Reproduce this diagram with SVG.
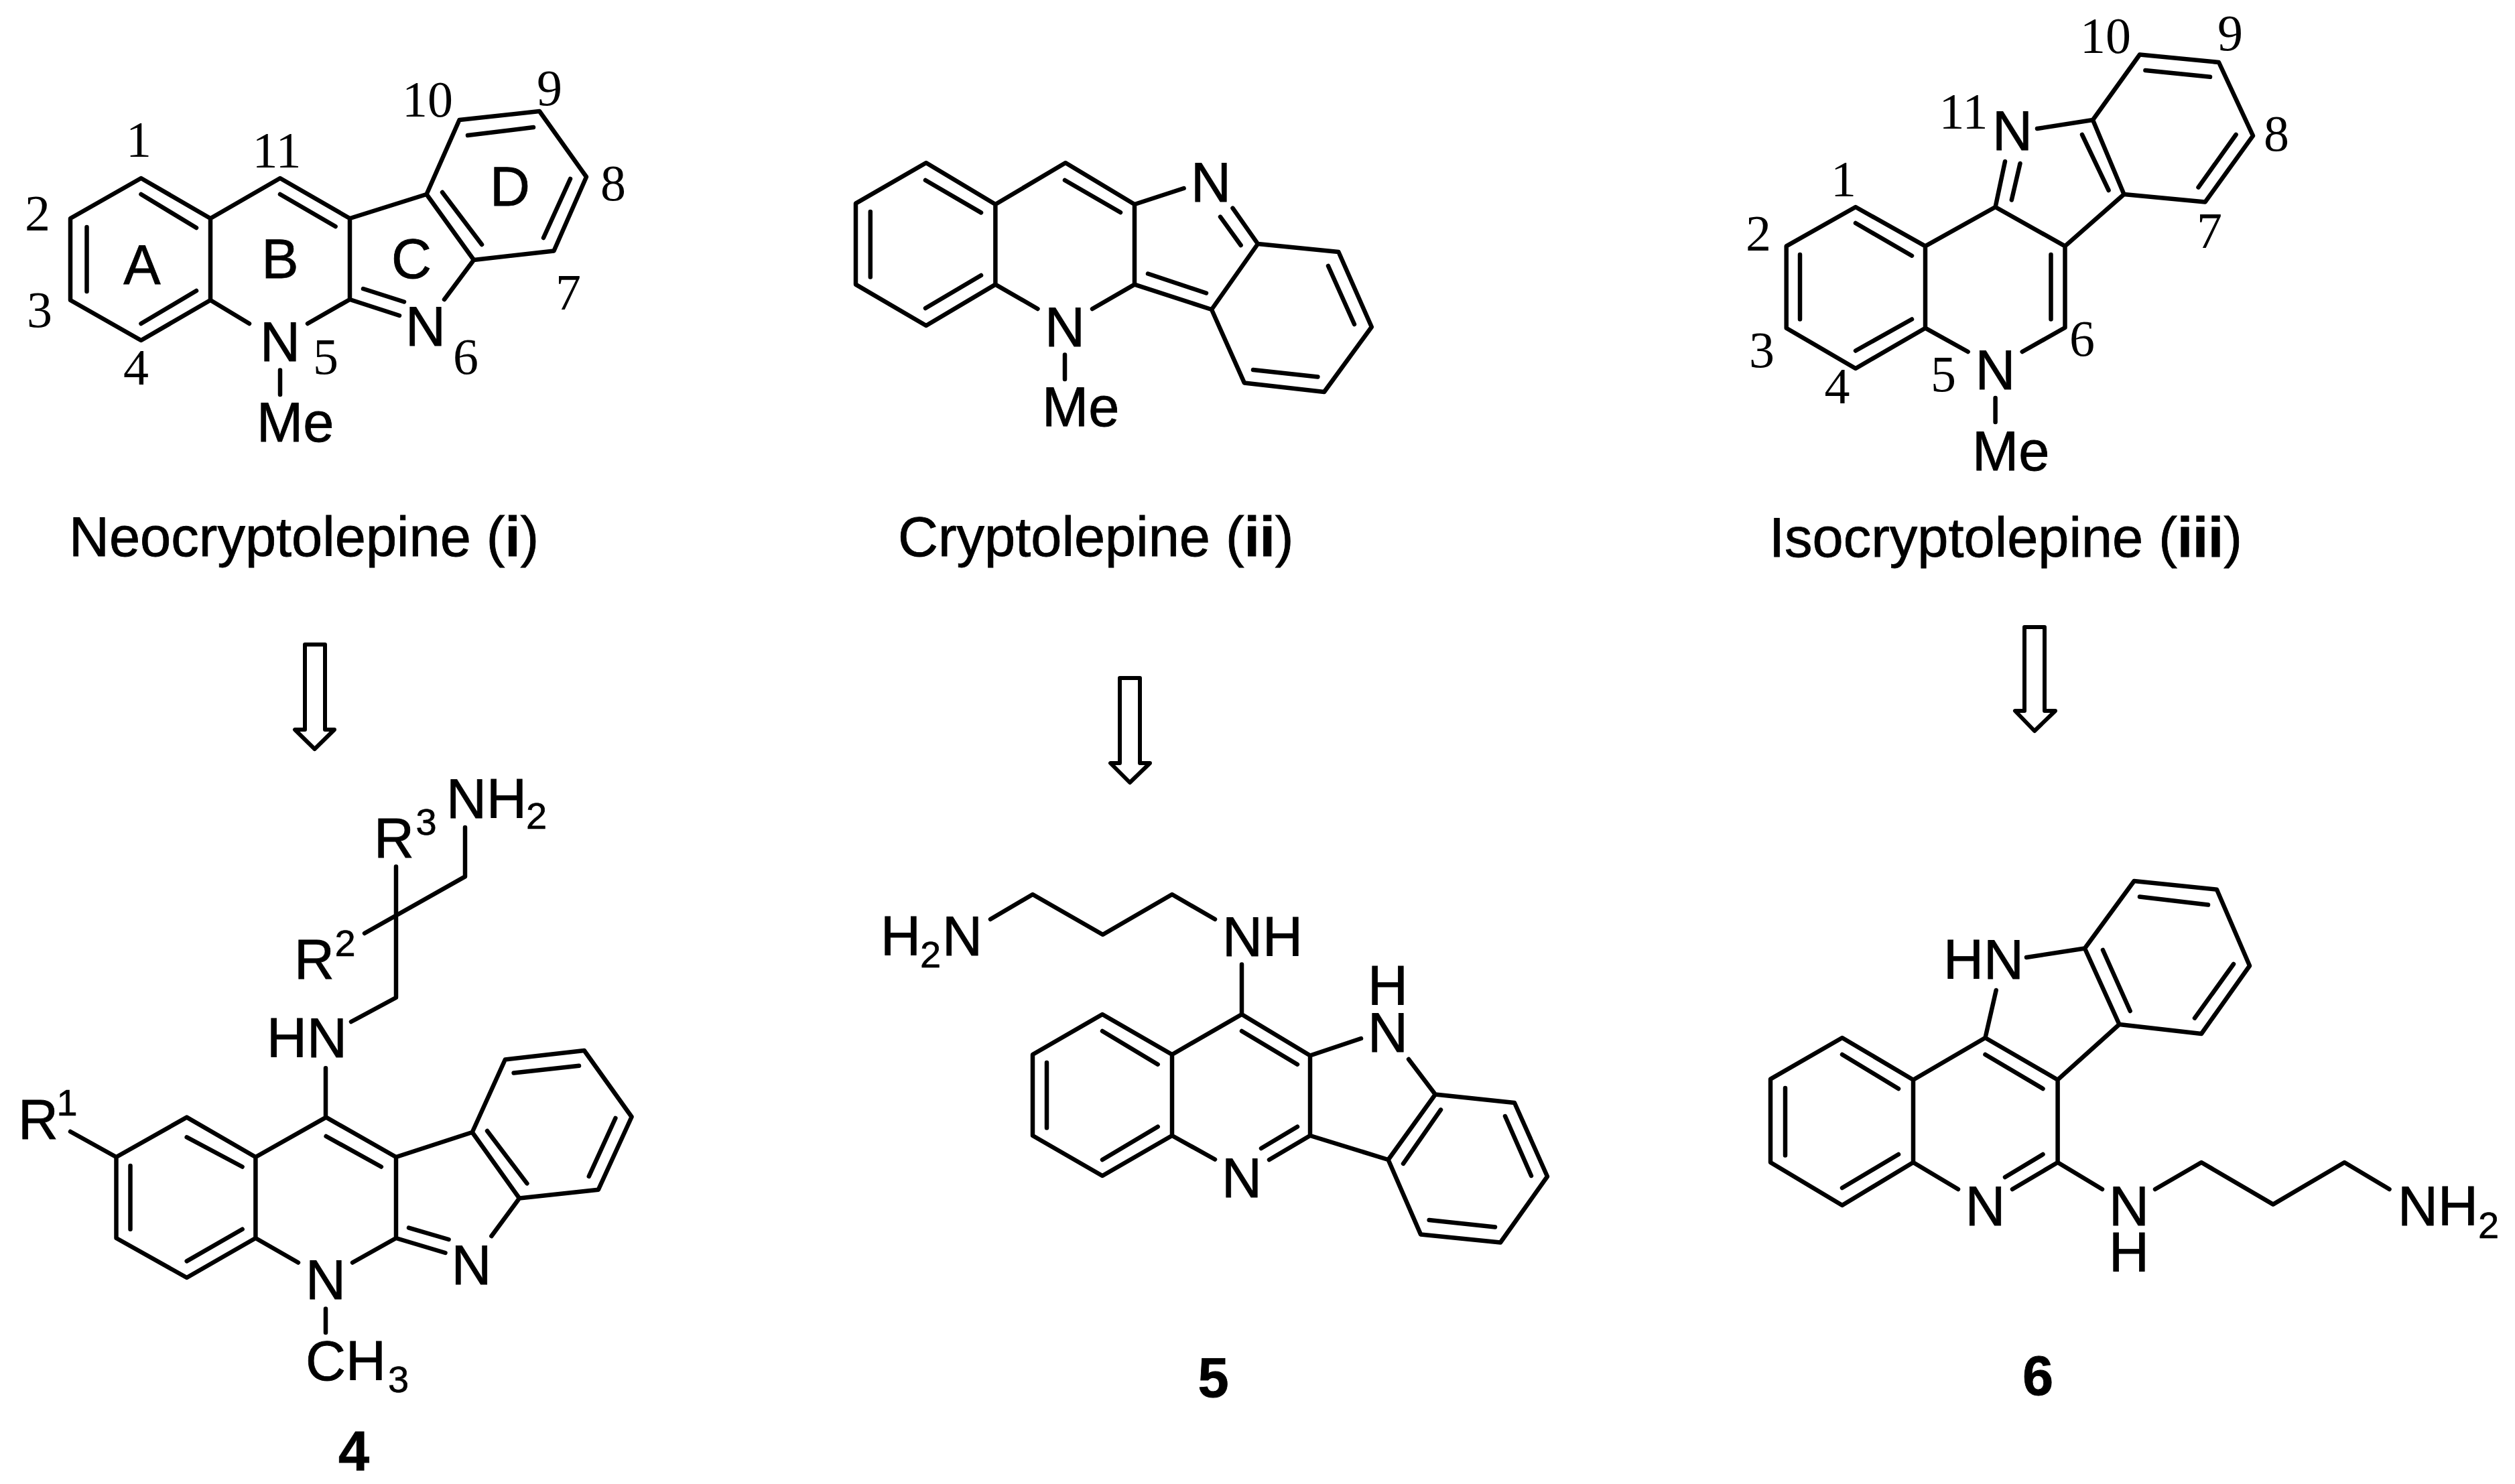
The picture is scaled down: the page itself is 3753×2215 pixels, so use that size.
<svg xmlns="http://www.w3.org/2000/svg" width="3753" height="2215" viewBox="0 0 3753 2215">
<style>
.b{fill:none;stroke:#000;stroke-width:6.500;stroke-linecap:round;stroke-linejoin:round}
.ar{fill:#fff;stroke:#000;stroke-width:6;stroke-linejoin:round}
text{fill:#000}
.a{font-family:"Liberation Sans",Arial,sans-serif;font-size:83px;stroke:#000;stroke-width:.8px}
.s{font-family:"Liberation Sans",Arial,sans-serif;font-size:56px;stroke:#000;stroke-width:.6px}
.n{font-family:"Liberation Serif","Times New Roman",serif;font-size:76px;text-anchor:middle}
.m{text-anchor:middle}
.bd{font-weight:bold}
</style>
<rect width="3753" height="2215" fill="#fff"/>
<g id="connectors">
<path class="ar" d="M455 962H485V1089H499L469.500 1118L440 1089H455Z"/>
<path class="ar" d="M1671 1012H1701V1139H1716L1686 1168L1657 1139H1671Z"/>
<path class="ar" d="M3021 936H3051V1061H3067L3036 1091L3007 1061H3021Z"/>
</g>
<g id="neocryptolepine">
<path class="b" d="M210.500 266L105 326V448L210.500 508L314 448V326ZM314 326L418 266L522 326V447M314 448L372 483M459 483L522 447L596 471M542 431L603 450.500M663 447L707 388L636.500 290L522 326M636.500 290L685.500 179L805 166L875 264L826.500 374.500L707 388M210.500 290L293 340M129.500 339V435M210.500 483L293 434M418 290L500.600 338M698 202L796 190M851 267L811 355M660 287L719 365M418 552.500V589"/>
<text class="a m" x="418" y="539">N</text><text class="a m" x="635" y="516">N</text>
<text class="a" x="383" y="659">Me</text>
<text class="a m" x="212" y="424">A</text><text class="a m" x="418" y="415">B</text><text class="a m" x="614" y="415">C</text><text class="a m" x="761" y="307">D</text>
<text class="n" x="207" y="234">1</text><text class="n" x="56" y="344">2</text><text class="n" x="59" y="488">3</text><text class="n" x="203" y="574">4</text><text class="n" x="486" y="558">5</text><text class="n" x="695" y="558">6</text><text class="n" x="848" y="462">7</text><text class="n" x="915" y="299">8</text><text class="n" x="820" y="157">9</text><text class="n" x="638" y="174">10</text><text class="n" x="413" y="250">11</text>
<text class="a" x="103" y="830">Neocryptolepine (<tspan class="bd">i</tspan>)</text>
</g>
<g id="cryptolepine">
<path class="b" d="M1382 243L1277 303.600V424.600L1382 486L1485.400 424.600V305ZM1485.400 305L1590 243L1693 305V424.600M1485.400 424.600L1548.500 461M1630 461L1693 424.600L1808 462M1713 408.500L1800 437.500M1693 305L1766.600 281M1839.500 310.700L1877 364M1821 323.700L1851.600 366M1877 364L1997.400 376L2046.800 488L1976 585L1856.800 571.400L1808 462L1877 364M1298.800 316V413.400M1381 269L1464 317.400M1381 460L1464 411M1589 269L1672 317M1982 397L2021 484M1870 552L1966.400 562.500M1589 529.500V566"/>
<text class="a m" x="1589" y="517">N</text><text class="a m" x="1807" y="300.500">N</text>
<text class="a" x="1555" y="636">Me</text>
<text class="a" x="1340" y="830">Cryptolepine (<tspan class="bd">ii</tspan>)</text>
</g>
<g id="isocryptolepine">
<path class="b" d="M2769 309L2665.700 367.400V489.700L2769 550L2873 489.700V367.400ZM2873 367.400L2977.600 309L3081.500 367.400V489L3017.700 525M2873 489.700L2936.700 525M2977.600 309L2992 241M3001.800 298.500L3014.500 244M3040 192L3123 179L3193 81.500L3311 93L3362 202.600L3290.700 301.400L3169.500 290L3123 179M3169.500 290L3081.500 367.400M2686 380V476.500M2769 333L2853 381.700M2769 523.500L2853 476.500M3060.500 380V476.500M3201.400 105L3298 114.800M3336.600 201L3280.500 279.600M3107 201L3146.600 284M2977.600 594V630"/>
<text class="a m" x="2977.600" y="581">N</text><text class="a m" x="3003" y="224">N</text>
<text class="a" x="2943" y="701.500">Me</text>
<text class="n" x="2751" y="293">1</text><text class="n" x="2624" y="374">2</text><text class="n" x="2629" y="548">3</text><text class="n" x="2741.600" y="601.600">4</text><text class="n" x="2900" y="584">5</text><text class="n" x="3107" y="531">6</text><text class="n" x="3297" y="370">7</text><text class="n" x="3397" y="225">8</text><text class="n" x="3328" y="74.600">9</text><text class="n" x="3142" y="78.600">10</text><text class="n" x="2930" y="192">11</text>
<text class="a" x="2640" y="830.600">Isocryptolepine (<tspan class="bd">iii</tspan>)</text>
</g>
<g id="compound-4">
<path class="b" d="M105 1689L173.500 1727L278.700 1667.600L381.400 1727V1848L278.700 1907L173.500 1848V1727M381.400 1727L486.600 1667.600L591 1727V1848M381.400 1848L445 1884.500M526 1884.500L591 1848L664.500 1870M610 1832.600L669.600 1850M733.400 1845L775 1788.500L704.700 1690L591 1727M704.700 1690L753.800 1581.500L871.800 1568L942.600 1667L892.900 1775.700L775 1788.500M766.600 1601.400L864 1590.800M918.400 1669L878.800 1755.800M727 1688L786.400 1766.400M194.500 1740V1834.700M278.700 1697.400L361.600 1741.500M278.700 1882.400L361.600 1834.700M486.600 1696L568.900 1741.500M486 1594.300V1667.600M524 1525L591 1489V1293.500M544 1393L694 1308.400V1235M486 1953.500V1989"/>
<text class="a" x="27" y="1699.600">R</text><text class="s m" x="100" y="1665">1</text>
<text class="a" x="398" y="1578">HN</text>
<text class="a" x="666" y="1221">NH</text><text class="s" x="785" y="1237">2</text>
<text class="a" x="558" y="1280">R</text><text class="s m" x="636" y="1246">3</text>
<text class="a" x="439" y="1460.600">R</text><text class="s m" x="515" y="1427">2</text>
<text class="a m" x="486" y="1939">N</text><text class="a m" x="703.400" y="1916.500">N</text>
<text class="a" x="456" y="2060">CH</text><text class="s" x="579" y="2078">3</text>
<text class="a m bd" x="528" y="2195">4</text>
</g>
<g id="compound-5">
<path class="b" d="M1478 1372L1541 1335L1645.600 1395L1749 1335L1813 1372M1853 1439.400V1514M1645 1514L1541 1574V1695L1645 1755L1749 1695V1574ZM1749 1574L1853 1514L1955 1575.500V1695L1894 1731M1936 1681.700L1882 1714M1749 1695L1813 1730.500M1955 1695L2071.600 1731L2141.800 1633.500L2102 1581M1955 1575.500L2031 1550M2141.800 1633.500L2260 1646L2309 1756L2239 1854.500L2120 1842.400L2071.600 1731M1562 1586V1683.400M1645 1539L1727.700 1588.700M1645 1731L1727.700 1681.700M1853 1539L1936 1588.700M2150 1656.400L2094 1736.800M2246 1666L2285 1755M2132.600 1821L2231 1831.500"/>
<text class="a" x="1314" y="1426">H</text><text class="s" x="1373" y="1444">2</text><text class="a" x="1406" y="1426">N</text>
<text class="a" x="1824" y="1427">NH</text>
<text class="a m" x="1853" y="1787">N</text>
<text class="a m" x="2071" y="1500">H</text><text class="a m" x="2071" y="1570">N</text>
<text class="a m bd" x="1810.500" y="2085">5</text>
</g>
<g id="compound-6">
<path class="b" d="M2749 1549L2642 1610.600V1735L2749 1799L2855 1735V1611.700ZM2855 1611.700L2962.500 1549L3070.600 1611.700V1735L3003 1775M3048.500 1723L2992 1757M2855 1735L2922 1775M3070.600 1735L3137 1775M3216 1775L3285 1735L3392 1797.600L3498.500 1735L3565.500 1775M2962.500 1549L2978.700 1478M3024 1429L3111 1415.500L3162.500 1529L3070.600 1611.700M3111 1415.500L3184.600 1315L3308 1327.700L3357 1441.500L3285 1543L3162.500 1529M2664 1624V1724.400M2749 1574L2833 1625M2749 1773L2833 1723M2962.500 1574L3048.500 1625M3138 1418L3178.700 1509M3333 1439L3275 1519.600M3193 1338.500L3295 1350.500"/>
<text class="a" x="2900" y="1460.500">HN</text>
<text class="a m" x="2962.500" y="1829">N</text>
<text class="a m" x="3177" y="1829">N</text><text class="a m" x="3177" y="1898">H</text>
<text class="a" x="3578" y="1829">NH</text><text class="s" x="3698" y="1848">2</text>
<text class="a m bd" x="3041" y="2082">6</text>
</g>
</svg>
